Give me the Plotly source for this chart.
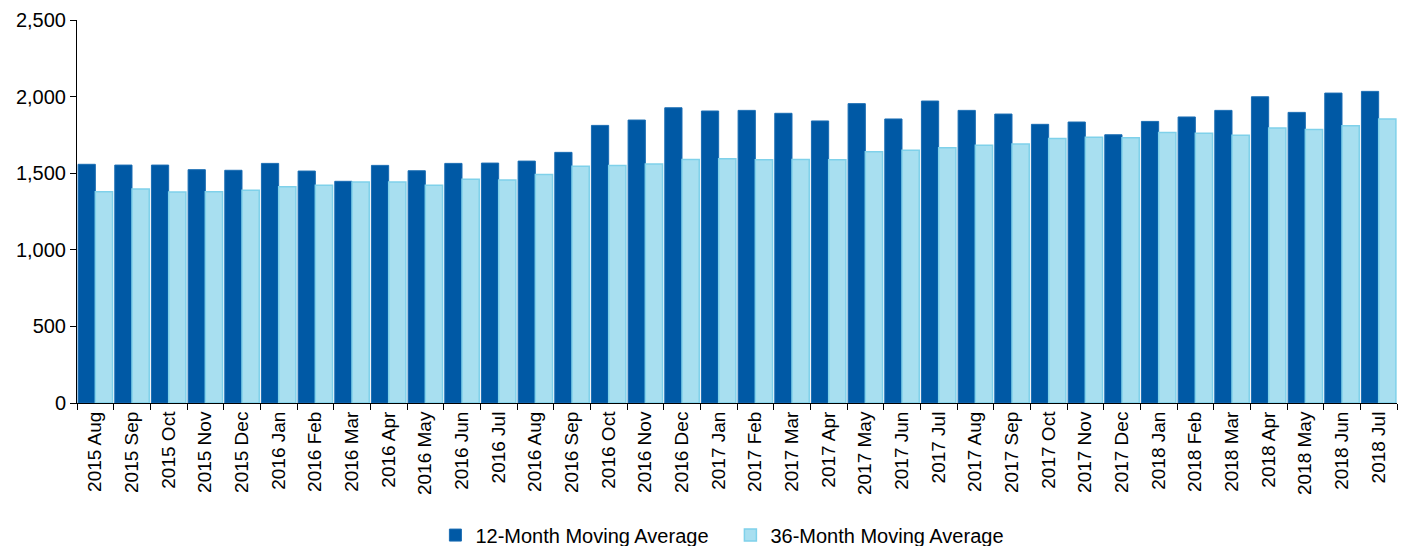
import plotly.graph_objects as go

categories = ["2015 Aug","2015 Sep","2015 Oct","2015 Nov","2015 Dec","2016 Jan","2016 Feb","2016 Mar",
              "2016 Apr","2016 May","2016 Jun","2016 Jul","2016 Aug","2016 Sep","2016 Oct","2016 Nov",
              "2016 Dec","2017 Jan","2017 Feb","2017 Mar","2017 Apr","2017 May","2017 Jun","2017 Jul",
              "2017 Aug","2017 Sep","2017 Oct","2017 Nov","2017 Dec","2018 Jan","2018 Feb","2018 Mar",
              "2018 Apr","2018 May","2018 Jun","2018 Jul"]

ma12 = [1558,1553,1553,1523,1519,1564,1514,1447,1551,1516,1564,1566,1579,1636,1812,1847,
        1927,1906,1910,1891,1841,1954,1854,1971,1910,1886,1819,1834,1751,1838,1867,1910,
        1999,1897,2023,2034]
ma36 = [1379,1397,1377,1379,1388,1412,1421,1442,1442,1421,1460,1455,1492,1545,1551,1560,
        1590,1595,1588,1590,1588,1640,1649,1666,1682,1690,1727,1734,1732,1766,1760,1747,
        1795,1786,1810,1854]

fig = go.Figure()
fig.add_trace(go.Bar(x=categories, y=ma12, name="12-Month Moving Average",
                     marker=dict(color="#0059a5", line=dict(color="#1a6db3", width=1))))
fig.add_trace(go.Bar(x=categories, y=ma36, name="36-Month Moving Average",
                     marker=dict(color="#a8dff0", line=dict(color="#7fd1ea", width=1.5))))

fig.update_layout(
    width=1403, height=546,
    margin=dict(l=77, r=6, t=20, b=143, autoexpand=False),
    paper_bgcolor="white", plot_bgcolor="white",
    barmode="group", bargap=0.06, bargroupgap=0,
    font=dict(family="Liberation Sans, Arial, sans-serif", size=19, color="black"),
    legend=dict(orientation="h", x=0.495, xanchor="center", yref="container", y=0.02, yanchor="middle",
                font=dict(family="Liberation Sans, sans-serif", size=20),
                itemwidth=30, tracegroupgap=0, entrywidth=250, entrywidthmode="pixels"),
    showlegend=True,
)
fig.update_xaxes(type="category", tickangle=-90, showline=True, linecolor="black", linewidth=1,
                 ticks="outside", tickson="boundaries", ticklen=6, tickcolor="black",
                 tickfont=dict(size=19), showgrid=False, automargin=False)
fig.update_yaxes(range=[0, 2500], tickvals=[0,500,1000,1500,2000,2500],
                 ticktext=["0","500","1,000","1,500","2,000","2,500"],
                 showline=True, linecolor="black", linewidth=1, ticks="outside", ticklen=6,
                 tickcolor="black", showgrid=False, zeroline=False, tickfont=dict(size=20),
                 automargin=False)

fig.write_html("out.html")
